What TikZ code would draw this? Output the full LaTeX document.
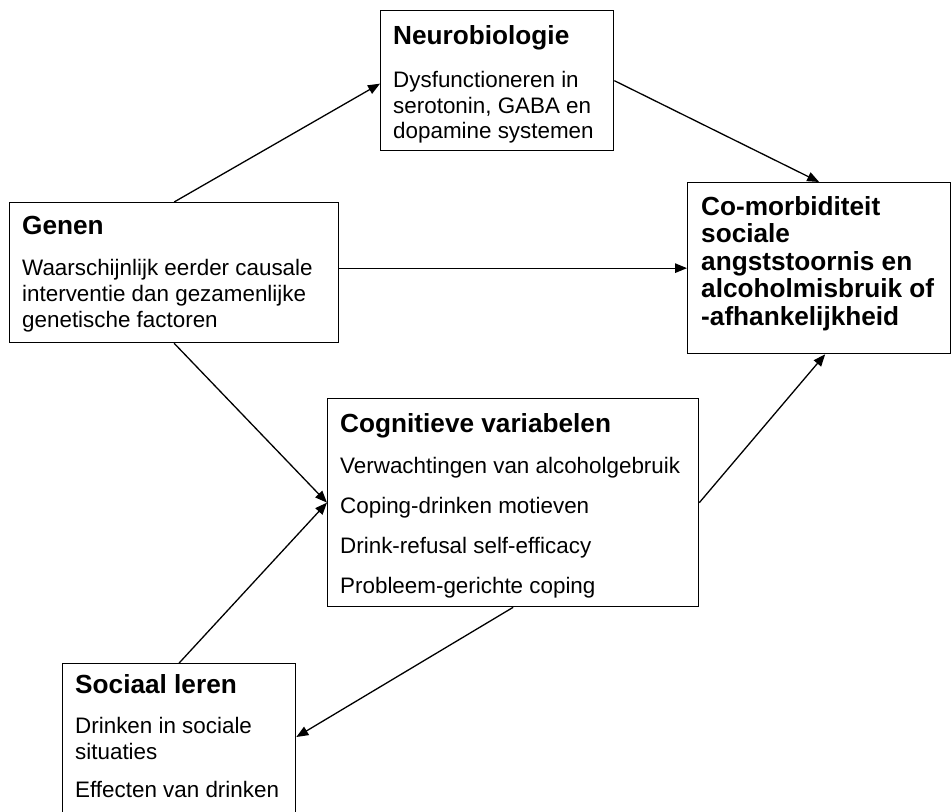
\documentclass[tikz,border=0pt]{standalone}
\usepackage{fontspec}
\setmainfont{Liberation Sans}
\usetikzlibrary{arrows.meta}
\begin{document}
\begin{tikzpicture}[x=1pt,y=-1pt,
  box/.style={draw, line width=1.3pt, rectangle, inner sep=0pt, anchor=north west},
  title/.style={anchor=base west, inner sep=0pt, font=\fontsize{26.2}{30}\selectfont\bfseries},
  body/.style={anchor=base west, inner sep=0pt, font=\fontsize{22.4}{26}\selectfont},
  arr/.style={line width=1.3pt, -{Triangle[length=12pt,width=9.5pt]}}
]
\clip (0,0) rectangle (952,811);
\fill[white] (0,0) rectangle (952,811);

% boxes
\node[box, minimum width=233pt, minimum height=140pt] (neuro) at (380,10) {};
\node[box, minimum width=329pt, minimum height=140pt] (genen) at (9,202) {};
\node[box, minimum width=263pt, minimum height=171pt] (comorb) at (687,182) {};
\node[box, minimum width=371pt, minimum height=208pt] (cog) at (327,398) {};
\node[box, minimum width=233pt, minimum height=180pt] (soc) at (62,663) {};

% Neurobiologie
\node[title] (neuroT) at (393,44.5) {Neurobiologie};
\node[body] (neuro1) at (393,87) {Dysfunctioneren in};
\node[body] (neuro2) at (393,113) {serotonin, GABA en};
\node[body] (neuro3) at (393,138.5) {dopamine systemen};

% Genen
\node[title] (genenT) at (22,234) {Genen};
\node[body] (genen1) at (22,275) {Waarschijnlijk eerder causale};
\node[body] (genen2) at (22,301) {interventie dan gezamenlijke};
\node[body] (genen3) at (22,327) {genetische factoren};

% Co-morbiditeit
\node[title] (comorb1) at (701,215) {Co-morbiditeit};
\node[title] (comorb2) at (701,242.5) {sociale};
\node[title] (comorb3) at (701,270) {angststoornis en};
\node[title] (comorb4) at (701,297.5) {alcoholmisbruik of};
\node[title] (comorb5) at (701,325) {-afhankelijkheid};

% Cognitieve variabelen
\node[title] (cogT) at (340,432) {Cognitieve variabelen};
\node[body] (cog1) at (340,473) {Verwachtingen van alcoholgebruik};
\node[body] (cog2) at (340,513) {Coping-drinken motieven};
\node[body] (cog3) at (340,553) {Drink-refusal self-efficacy};
\node[body] (cog4) at (340,593) {Probleem-gerichte coping};

% Sociaal leren
\node[title] (socT) at (75,693) {Sociaal leren};
\node[body] (soc1) at (75,733) {Drinken in sociale};
\node[body] (soc2) at (75,759) {situaties};
\node[body] (soc3) at (75,797) {Effecten van drinken};

% connectors
\draw[arr] (genen.north) -- ([yshift=-3pt]neuro.west);
\draw[arr] (neuro.east) -- (comorb.north);
\draw[arr] (comorb.west -| genen.east) -- (comorb.west);
\draw[arr] (genen.south) -- (cog.west);
\draw[arr] (soc.north) -- (cog.west);
\draw[arr] (cog.east) -- ([xshift=6pt]comorb.south);
\draw[arr] (cog.south) -- ([yshift=-74pt]soc.north east);
\end{tikzpicture}
\end{document}
